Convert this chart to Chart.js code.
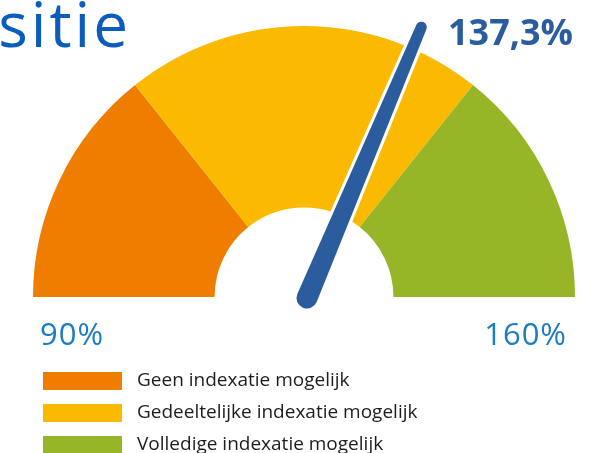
<!DOCTYPE html>
<html>
<head>
<meta charset="utf-8">
<script src="https://cdn.jsdelivr.net/npm/chart.js@4"></script>
<style>
  html, body { margin: 0; padding: 0; background: #fff; }
  #wrap { position: relative; width: 608px; height: 453px; }
</style>
</head>
<body>
<div id="wrap"><canvas id="gauge" width="608" height="453"></canvas></div>
<script>
// gauge bands (percent of the 90%..160% scale)
const bandLabels = ['Geen indexatie mogelijk', 'Gedeeltelijke indexatie mogelijk', 'Volledige indexatie mogelijk'];
const bandEdges = [90, 110, 140, 160];
const bandColors = ['#ef7d00', '#fbb900', '#96b627'];
const scaleTicks = ['90%', '160%'];
const reported = 137.3;   // value printed top right
const needleAt = 133.9;   // where the needle points in the picture

const bandSizes = bandEdges.slice(1).map((e, i) => e - bandEdges[i]);
const fmt = (v) => v.toFixed(1).replace('.', ',') + '%';

const FONT = '"Open Sans", "DejaVu Sans", sans-serif';

// tapered needle with round ends
function needlePath(ctx, bx, by, tx, ty, rb, rt) {
  const a = Math.atan2(ty - by, tx - bx);
  const n = a + Math.PI / 2;
  ctx.beginPath();
  ctx.moveTo(bx + rb * Math.cos(n), by + rb * Math.sin(n));
  ctx.lineTo(tx + rt * Math.cos(n), ty + rt * Math.sin(n));
  ctx.arc(tx, ty, rt, n, n - Math.PI, true);
  ctx.lineTo(bx - rb * Math.cos(n), by - rb * Math.sin(n));
  ctx.arc(bx, by, rb, n - Math.PI, n, true);
  ctx.closePath();
}

const decorations = {
  id: 'decorations',
  afterDatasetsDraw(chart) {
    const ctx = chart.ctx;
    const arc = chart.getDatasetMeta(0).data[0];
    const cx = arc.x, cy = arc.y;
    const lo = bandEdges[0], hi = bandEdges[bandEdges.length - 1];

    // needle
    const a = Math.PI - (needleAt - lo) / (hi - lo) * Math.PI;
    const dx = Math.cos(a), dy = -Math.sin(a);
    const bx = cx + 3, by = cy + 1;
    const len = 294;
    const tx = bx + len * dx, ty = by + len * dy;
    ctx.save();
    needlePath(ctx, bx, by, tx, ty, 10.5, 5.5);
    ctx.lineJoin = 'round';
    ctx.strokeStyle = '#ffffff';
    ctx.lineWidth = 6;
    ctx.stroke();
    ctx.fillStyle = '#2a5c9e';
    ctx.fill();

    // title (cut off on the left in the original)
    ctx.fillStyle = '#0a5cbf';
    ctx.font = '62px ' + FONT;
    ctx.letterSpacing = '3px';
    ctx.textAlign = 'right';
    ctx.textBaseline = 'alphabetic';
    ctx.fillText('Positie', 131, 47);
    ctx.letterSpacing = '0px';

    // reported value
    ctx.fillStyle = '#2a5c9e';
    ctx.font = 'bold 36px ' + FONT;
    ctx.fillText(fmt(reported), 573, 45);

    // scale ends
    ctx.fillStyle = '#1a7cc4';
    ctx.font = '31px ' + FONT;
    ctx.letterSpacing = '1px';
    ctx.textAlign = 'left';
    ctx.fillText(scaleTicks[0], 40, 345);
    ctx.textAlign = 'right';
    ctx.fillText(scaleTicks[1], 567, 345);
    ctx.letterSpacing = '0px';

    // legend
    ctx.textAlign = 'left';
    ctx.textBaseline = 'middle';
    ctx.font = '19px ' + FONT;
    bandLabels.forEach((lab, i) => {
      const y = 372 + i * 32;
      ctx.fillStyle = bandColors[i];
      ctx.fillRect(43, y, 79, 18);
      ctx.fillStyle = '#1d1d1b';
      ctx.fillText(lab, 137, y + 9);
    });
    ctx.restore();
  }
};

new Chart(document.getElementById('gauge'), {
  type: 'doughnut',
  data: {
    labels: bandLabels,
    datasets: [{ data: bandSizes, backgroundColor: bandColors, borderWidth: 0 }]
  },
  options: {
    responsive: false,
    animation: false,
    rotation: -90,
    circumference: 180,
    cutout: '33%',
    layout: { padding: { left: 33, right: 33, top: 26, bottom: 156 } },
    plugins: { legend: { display: false }, tooltip: { enabled: false } }
  },
  plugins: [decorations]
});
</script>
</body>
</html>
